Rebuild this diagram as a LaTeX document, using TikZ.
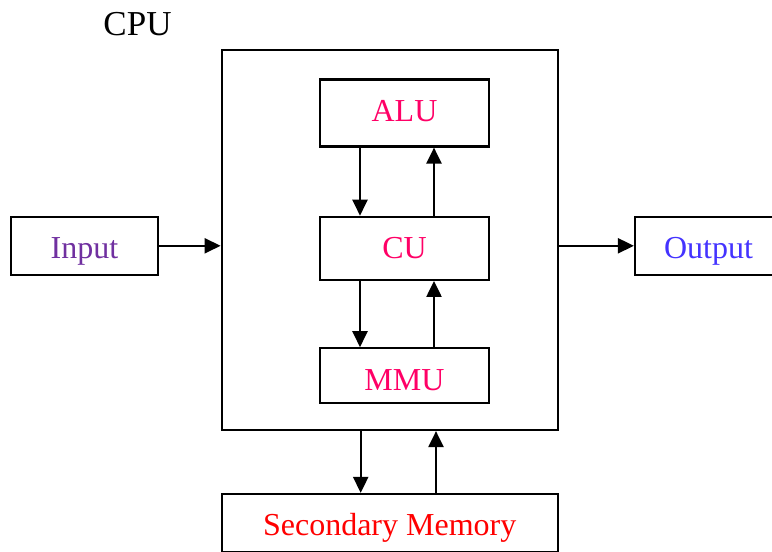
\documentclass[tikz,border=0pt]{standalone}
\usepackage{fontspec}
\setmainfont{Liberation Serif}
\usetikzlibrary{arrows.meta}
\definecolor{inpurple}{HTML}{7030A0}
\definecolor{unitpink}{HTML}{FF0066}
\definecolor{outblue}{HTML}{4433FF}
\definecolor{memred}{HTML}{FF0000}
\begin{document}
\begin{tikzpicture}[x=1pt, y=-1pt, >={Triangle[length=16pt,width=15pt]},
		font=\fontsize{32}{38}\selectfont,
		box/.style={draw, line width=2.2pt, inner sep=0pt, text height=24pt, text depth=0pt},
		unit/.style={box, minimum width=169pt, text=unitpink},
		arr/.style={->, line width=2.2pt}]
				\useasboundingbox (0,0) rectangle (772,552);
				\clip (0,0) rectangle (772,552);
				\node[text height=24pt, text depth=0pt, font=\fontsize{35}{40}\selectfont] (cpulabel) at (137.5,23) {CPU};
				\node[box, minimum width=336pt, minimum height=380pt] (cpu) at (389.7,240) {};
				\node[unit, minimum height=67pt, text height=17.4pt] (alu) at (404.5,113) {ALU};
				\node[unit, minimum height=63pt, text height=20pt] (cu) at (404.5,248.3) {CU};
				\node[unit, minimum height=55pt, text height=28.4pt] (mmu) at (404.5,375.8) {MMU};
				\node[box, minimum width=147pt, minimum height=58pt, text height=25pt, text=inpurple] (input) at (84.5,245.8) {Input};
				\node[box, minimum width=147pt, minimum height=58pt, text height=25pt, text=outblue] (output) at (708.5,245.8) {Output};
				\node[box, minimum width=336pt, minimum height=58pt, text=memred] (secmem) at (389.7,523) {Secondary Memory};
				\draw[arr] (input.east) -- (input.east -| cpu.west);
				\draw[arr] (cpu.east |- output.west) -- (output.west);
				\draw[arr] ([xshift=-44.5pt]alu.south) -- ([xshift=-44.5pt]cu.north);
				\draw[arr] ([xshift=29.5pt]cu.north) -- ([xshift=29.5pt]alu.south);
				\draw[arr] ([xshift=-44.5pt]cu.south) -- ([xshift=-44.5pt]mmu.north);
				\draw[arr] ([xshift=29.5pt]mmu.north) -- ([xshift=29.5pt]cu.south);
				\draw[arr] ([xshift=-29pt]cpu.south) -- ([xshift=-29pt]secmem.north);
				\draw[arr] ([xshift=46.3pt]secmem.north) -- ([xshift=46.3pt]cpu.south);
\end{tikzpicture}
\end{document}
